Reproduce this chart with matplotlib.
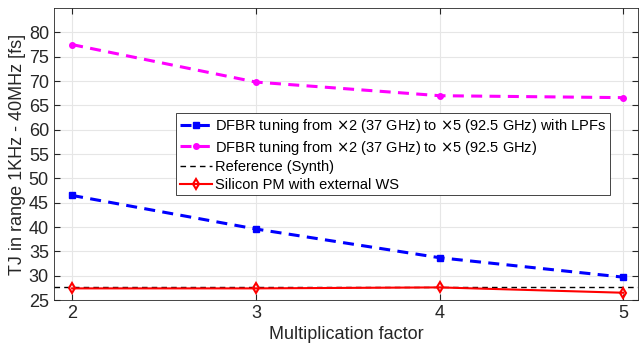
import numpy as np
import matplotlib.pyplot as plt

plt.rcParams['font.family'] = ['Liberation Sans', 'DejaVu Sans']

mult = [2, 3, 4, 5]
tj_lpf = [46.5, 39.6, 33.7, 29.7]
tj_dfbr = [77.5, 69.8, 67.0, 66.6]
tj_ref = 27.6
tj_si = [27.4, 27.4, 27.6, 26.5]
yticks = [25, 30, 35, 40, 45, 50, 55, 60, 65, 70, 75, 80]

fig = plt.figure(figsize=(6.4, 3.53), dpi=100)
ax = fig.add_axes([0.084, 0.150, 0.913, 0.827])

ax.plot(mult, tj_lpf, 'b--', marker='s', markersize=3.8, linewidth=2.2, dashes=(3.6, 2.4),
        label='DFBR tuning from $\\times$2 (37 GHz) to $\\times$5 (92.5 GHz) with LPFs')
ax.plot(mult, tj_dfbr, '--', color='magenta', marker='o', markersize=4, linewidth=2.2,
        dashes=(3.6, 2.4), label='DFBR tuning from $\\times$2 (37 GHz) to $\\times$5 (92.5 GHz)')
ax.axhline(tj_ref, color='k', linestyle='--', linewidth=1, dashes=(4, 3), label='Reference (Synth)')
ax.plot(mult, tj_si, 'r-', marker='d', markersize=5.5, markerfacecolor='none',
        markeredgewidth=1.5, linewidth=1.5, label='Silicon PM with external WS')

ax.set_xlim(1.9, 5.08)
ax.set_ylim(25, 85)
ax.set_xticks(mult)
ax.set_yticks(yticks)
ax.grid(True, color='#e6e6e6', linewidth=0.8)
ax.set_axisbelow(True)
ax.tick_params(labelsize=13, colors='#262626', direction='in', right=True, top=True, length=4)
for s in ax.spines.values():
    s.set_color('#262626')
    s.set_linewidth(0.6)
ax.set_xlabel('Multiplication factor', fontsize=13, color='#262626', labelpad=3)
ax.set_ylabel('TJ in range 1KHz - 40MHz [fs]', fontsize=13, color='#262626', labelpad=2)

leg = ax.legend(loc='upper left', bbox_to_anchor=(0.21, 0.64), fontsize=10.5, fancybox=False,
                framealpha=1, edgecolor='#262626', borderpad=0.25, labelspacing=0.25,
                handlelength=2.2, handletextpad=0.2, borderaxespad=0)
leg.get_frame().set_linewidth(0.6)

fig.savefig('out.png', dpi=100)
